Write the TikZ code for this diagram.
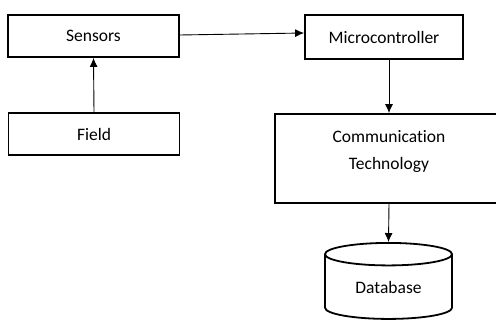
\documentclass[tikz,border=0pt]{standalone}
\usepackage{fontspec}
\setmainfont{Carlito}[Ligatures=NoCommon]
\usetikzlibrary{arrows.meta,shapes.geometric}

\begin{document}
\begin{tikzpicture}[x=1pt,y=-1pt,
		box/.style={draw,line width=1.8pt,inner sep=0pt,font=\fontsize{17.5}{21}\selectfont},
		line/.style={draw,line width=0.9pt,-{Latex[length=9pt,width=8pt]}}]
		\useasboundingbox (0,0) rectangle (496,323);
		% blocks
		\node[box,minimum width=171pt,minimum height=42pt] (sensors) at (93.5,36) {Sensors};
		\node[box,minimum width=171pt,minimum height=42pt] (field) at (94,134) {Field};
		\node[box,minimum width=158pt,minimum height=44pt] (micro) at (384,37) {Microcontroller};
		\node[box,minimum width=228pt,minimum height=89pt,align=center,text depth=18pt] (comm) at (389,158.5) {Communication\\[6pt]Technology};
		\node[box,cylinder,shape border rotate=90,aspect=0.34,minimum width=127pt,minimum height=76pt] (db) at (388.5,287) {Database};
		% arrows
		\draw[line] (field.north) -- (sensors.south);
		\draw[line] ([yshift=1pt]sensors.east) -- ([yshift=4pt]micro.west);
		\draw[line] (micro.south -| comm.north) -- (comm.north);
		\draw[line] (comm.south) -- (db.north);
\end{tikzpicture}
\end{document}
